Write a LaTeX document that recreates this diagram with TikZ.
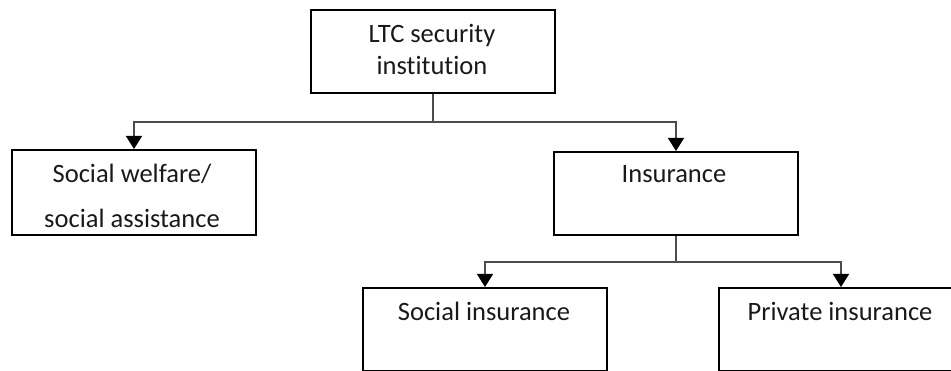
\documentclass[tikz,border=0pt]{standalone}
\usepackage{fontspec}
\setmainfont{Carlito}[Ligatures=NoCommon]
\usetikzlibrary{arrows.meta}
\begin{document}
\begin{tikzpicture}[x=1pt,y=-1pt,
  box/.style={draw=black,line width=2pt,minimum width=#1,inner sep=0pt,anchor=north west},
  lbl/.style={anchor=base,inner sep=0pt,font=\fontsize{26.5}{30}\selectfont,text=black!90},
  conn/.style={draw=black!70,line width=1.3pt},
  arr/.style={conn,-{Triangle[length=13pt,width=16pt,color=black]}}]
\useasboundingbox (0,0) rectangle (951,371);
% boxes
\node[box=244pt,minimum height=83pt] (top) at (310,9) {};
\node[box=244pt,minimum height=85pt] (sw) at (11,149) {};
\node[box=244pt,minimum height=83pt] (ins) at (553,151) {};
\node[box=244pt,minimum height=83pt] (si) at (362,287) {};
\node[box=248pt,minimum height=83pt] (pi) at (718,287) {};
% texts
\node[lbl] (t1) at (432,43) {LTC security};
\node[lbl] (t2) at (432,75) {institution};
\node[lbl] (t3) at (132,183) {Social welfare/};
\node[lbl] (t4) at (132,228) {social assistance};
\node[lbl] (t5) at (674,183) {Insurance};
\node[lbl] (t6) at (484,321) {Social insurance};
\node[lbl] (t7) at (840,321) {Private insurance};
% connectors
\coordinate (j1) at (top.south |- 0,122);
\coordinate (j2) at (ins.south |- 0,262);
\draw[conn] (top.south) -- (j1);
\draw[arr] (j1) -| (sw.north);
\draw[arr] (j1) -| (ins.north);
\draw[conn] (ins.south) -- (j2);
\draw[arr] (j2) -| (si.north);
\draw[arr] (j2) -| ([xshift=-2pt]pi.north);
\end{tikzpicture}
\end{document}
